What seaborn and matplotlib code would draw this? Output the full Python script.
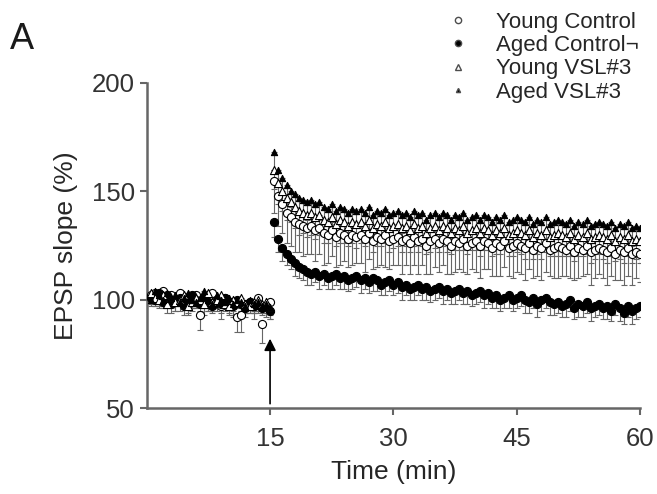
import matplotlib
matplotlib.use("Agg")
import matplotlib.pyplot as plt
import numpy as np
import pandas as pd
import seaborn as sns
from matplotlib.lines import Line2D

# sampling every 30 s, baseline 0-15 min, HFS at 15 min
time_min = np.arange(0.5, 60.5, 0.5)

young_ctrl = [
    102, 103, 101, 104, 100, 102, 99, 103, 101, 98, 100, 102, 93, 101, 99,
    103, 100, 97, 101, 99, 98, 92, 93, 98, 99, 97, 101, 89, 97, 99,
    155, 148, 144, 140, 138, 136, 135, 134, 133, 134,
    132, 133, 131, 130, 132, 129, 131, 130, 128, 130,
    129, 130, 128, 131, 127, 129, 128, 130, 127, 128,
    129, 127, 128, 126, 129, 127, 128, 125, 127, 128,
    126, 128, 127, 125, 127, 126, 128, 125, 126, 127,
    125, 127, 126, 124, 126, 125, 127, 124, 125, 126,
    125, 124, 126, 123, 125, 124, 126, 123, 124, 125,
    124, 123, 125, 122, 124, 123, 125, 122, 123, 124,
    123, 122, 124, 121, 123, 122, 124, 121, 122, 121,
]
aged_ctrl = [
    101, 100, 103, 99, 102, 98, 100, 101, 97, 99, 102, 100, 98, 101, 99,
    97, 100, 98, 101, 99, 97, 100, 98, 96, 99, 97, 98, 96, 97, 95,
    136, 128, 124, 121, 119, 117, 115, 114, 113, 112,
    113, 111, 112, 110, 111, 112, 110, 111, 109, 110,
    111, 109, 110, 108, 110, 109, 107, 108, 109, 107,
    108, 106, 107, 105, 106, 107, 105, 106, 104, 105,
    106, 104, 105, 103, 104, 105, 103, 104, 102, 103,
    104, 102, 103, 101, 102, 100, 101, 102, 100, 101,
    102, 100, 99, 101, 98, 100, 101, 99, 98, 99,
    97, 98, 100, 96, 98, 97, 99, 96, 97, 98,
    96, 97, 95, 98, 96, 94, 97, 95, 96, 97,
]
young_vsl = [
    103, 101, 100, 102, 98, 101, 99, 100, 102, 97, 99, 101, 100, 98, 103,
    99, 100, 102, 98, 97, 100, 99, 101, 98, 97, 99, 100, 98, 99, 96,
    160, 154, 150, 147, 145, 143, 141, 140, 139, 140,
    138, 139, 137, 136, 138, 135, 137, 136, 134, 136,
    135, 136, 134, 137, 133, 135, 134, 136, 133, 134,
    135, 133, 134, 132, 135, 133, 134, 131, 133, 134,
    132, 134, 133, 131, 133, 132, 134, 131, 132, 133,
    131, 133, 132, 130, 132, 131, 133, 130, 131, 132,
    131, 130, 132, 129, 131, 130, 132, 129, 130, 131,
    130, 129, 131, 128, 130, 129, 131, 128, 129, 130,
    129, 128, 130, 127, 129, 128, 130, 127, 128, 127,
]
aged_vsl = [
    100, 104, 102, 100, 103, 101, 102, 99, 101, 103, 100, 99, 101, 104, 100,
    98, 102, 100, 99, 101, 98, 100, 99, 97, 100, 98, 99, 97, 98, 96,
    168, 160, 156, 153, 150, 149, 147, 146, 145, 146,
    144, 145, 143, 142, 144, 141, 143, 142, 140, 142,
    141, 142, 140, 143, 139, 141, 140, 142, 139, 140,
    141, 139, 140, 138, 141, 139, 140, 137, 139, 140,
    138, 140, 139, 137, 139, 138, 140, 137, 138, 139,
    137, 139, 138, 136, 138, 137, 139, 136, 137, 138,
    137, 136, 138, 135, 137, 136, 138, 135, 136, 137,
    136, 135, 137, 134, 136, 135, 137, 134, 135, 136,
    135, 134, 136, 133, 135, 134, 136, 133, 134, 133,
]

young_ctrl_sem = [
    4, 3, 5, 4, 3, 6, 4, 5, 3, 4, 5, 4, 7, 5, 4, 3, 5, 6, 4, 5,
    6, 7, 8, 4, 5, 6, 4, 9, 5, 5,
    15, 14, 13, 14, 13, 14, 13, 14, 12, 13, 14, 12, 15, 13, 12, 14, 15, 12, 13, 14,
    12, 13, 15, 12, 13, 14, 12, 15, 13, 12, 13, 15, 12, 14, 13, 15, 12, 13, 15, 13,
    13, 12, 15, 13, 14, 12, 15, 13, 12, 14, 15, 13, 12, 13, 15, 14, 12, 13, 15, 13,
    13, 15, 12, 13, 14, 15, 13, 12, 14, 15, 13, 12, 15, 13, 14, 12, 13, 15, 13, 12,
    13, 15, 13, 12, 14, 15, 13, 14, 12, 13,
]
aged_ctrl_sem = [
    3, 3, 4, 3, 3, 4, 3, 3, 4, 3, 3, 4, 3, 3, 4, 3, 3, 4, 3, 3,
    4, 3, 3, 4, 3, 3, 4, 3, 3, 4,
    7, 6, 6, 5, 5, 6, 5, 5, 6, 5, 5, 6, 5, 5, 6, 5, 5, 6, 5, 5,
    5, 6, 5, 5, 6, 5, 5, 6, 5, 5, 5, 6, 5, 5, 6, 5, 5, 6, 5, 5,
    5, 6, 5, 5, 6, 5, 5, 6, 5, 5, 5, 6, 5, 5, 6, 5, 5, 6, 5, 5,
    5, 6, 5, 5, 6, 5, 5, 6, 5, 5, 5, 6, 5, 5, 6, 5, 5, 6, 5, 5,
    5, 6, 5, 5, 6, 5, 5, 6, 5, 5,
]
young_vsl_sem = [
    3, 4, 3, 5, 4, 3, 4, 3, 5, 4, 3, 4, 3, 5, 4, 3, 4, 5, 3, 4,
    4, 3, 5, 4, 3, 4, 5, 3, 4, 5,
    9, 10, 9, 10, 9, 10, 11, 9, 10, 10, 10, 9, 11, 10, 9, 10, 11, 10, 9, 10,
    11, 10, 9, 10, 11, 10, 9, 10, 11, 10, 10, 11, 9, 10, 10, 11, 9, 10, 11, 10,
    10, 9, 11, 10, 10, 9, 11, 10, 9, 10, 11, 10, 9, 10, 11, 10, 9, 10, 11, 10,
    10, 11, 9, 10, 10, 11, 10, 9, 10, 11, 10, 9, 11, 10, 10, 9, 10, 11, 10, 9,
    10, 11, 10, 9, 10, 11, 10, 10, 9, 10,
]
aged_vsl_sem = [
    3, 4, 3, 3, 4, 3, 3, 4, 3, 3, 4, 3, 3, 4, 3, 3, 4, 3, 3, 4,
    3, 3, 4, 3, 3, 4, 3, 3, 4, 3,
    8, 8, 7, 7, 7, 8, 7, 7, 8, 7, 7, 8, 7, 7, 8, 7, 7, 8, 7, 7,
    7, 8, 7, 7, 8, 7, 7, 8, 7, 7, 7, 8, 7, 7, 8, 7, 7, 8, 7, 7,
    7, 8, 7, 7, 8, 7, 7, 8, 7, 7, 7, 8, 7, 7, 8, 7, 7, 8, 7, 7,
    7, 8, 7, 7, 8, 7, 7, 8, 7, 7, 7, 8, 7, 7, 8, 7, 7, 8, 7, 7,
    7, 8, 7, 7, 8, 7, 7, 8, 7, 7,
]

groups = ["Young Control", "Aged Control¬", "Young VSL#3", "Aged VSL#3"]
means = [young_ctrl, aged_ctrl, young_vsl, aged_vsl]
sems = [young_ctrl_sem, aged_ctrl_sem, young_vsl_sem, aged_vsl_sem]

df = pd.concat(
    [
        pd.DataFrame({"time": time_min, "slope": m, "sem": s, "group": g})
        for g, m, s in zip(groups, means, sems)
    ],
    ignore_index=True,
)

styles = {
    "Young Control": dict(marker="o", facecolor="white", size=34, ms=4.5),
    "Aged Control¬": dict(marker="o", facecolor="black", size=34, ms=4.5),
    "Young VSL#3": dict(marker="^", facecolor="white", size=34, ms=4.5),
    "Aged VSL#3": dict(marker="^", facecolor="black", size=20, ms=3),
}

sns.set_style("ticks")
plt.rcParams["font.family"] = ["Liberation Sans", "DejaVu Sans"]

fig = plt.figure(figsize=(6.57, 4.94), dpi=100)
ax = fig.add_axes([0.2233, 0.174, 0.751, 0.658])

for g in groups:
    d = df[df["group"] == g]
    st = styles[g]
    ax.errorbar(
        d["time"], d["slope"], yerr=[d["sem"], np.zeros(len(d))],
        fmt="none", ecolor="0.4", elinewidth=0.8, capsize=2, capthick=0.8,
        zorder=2,
    )
    sns.scatterplot(
        data=d, x="time", y="slope", ax=ax, marker=st["marker"],
        color=st["facecolor"], edgecolor="black", linewidth=0.8,
        s=st["size"], zorder=3, legend=False,
    )

ax.set_xlim(0, 60)
ax.set_ylim(50, 200)
ax.set_xticks([15, 30, 45, 60])
ax.set_yticks([50, 100, 150, 200])
ax.set_xlabel("Time (min)", fontsize=19, labelpad=6, color="0.15")
ax.set_ylabel("EPSP slope (%)", fontsize=19, labelpad=10, color="0.15")
ax.tick_params(labelsize=18.5, length=5, width=1.5, color="0.4",
               labelcolor="0.2")
ax.tick_params(axis="x", pad=9)
for side in ["left", "bottom"]:
    ax.spines[side].set_color("0.4")
    ax.spines[side].set_linewidth(1.8)
sns.despine(ax=ax)

# HFS arrow
ax.annotate(
    "", xy=(15, 82), xytext=(15, 52),
    arrowprops=dict(arrowstyle="-|>,head_length=0.7,head_width=0.35",
                    color="black", lw=1.2, shrinkA=0, shrinkB=0),
)

handles = [
    Line2D([], [], linestyle="none", marker=styles[g]["marker"],
           markerfacecolor=styles[g]["facecolor"], markeredgecolor="0.3",
           markersize=styles[g]["ms"])
    for g in groups
]
fig.legend(
    handles, groups, loc="upper left", bbox_to_anchor=(447 / 657, 0.976),
    frameon=False, fontsize=16, handlelength=1.0, handletextpad=1.2,
    labelspacing=0.1, borderpad=0, borderaxespad=0, labelcolor="0.15",
)

fig.text(0.015, 0.9, "A", fontsize=26, color="0.1")

fig.savefig("out.png", dpi=100)
